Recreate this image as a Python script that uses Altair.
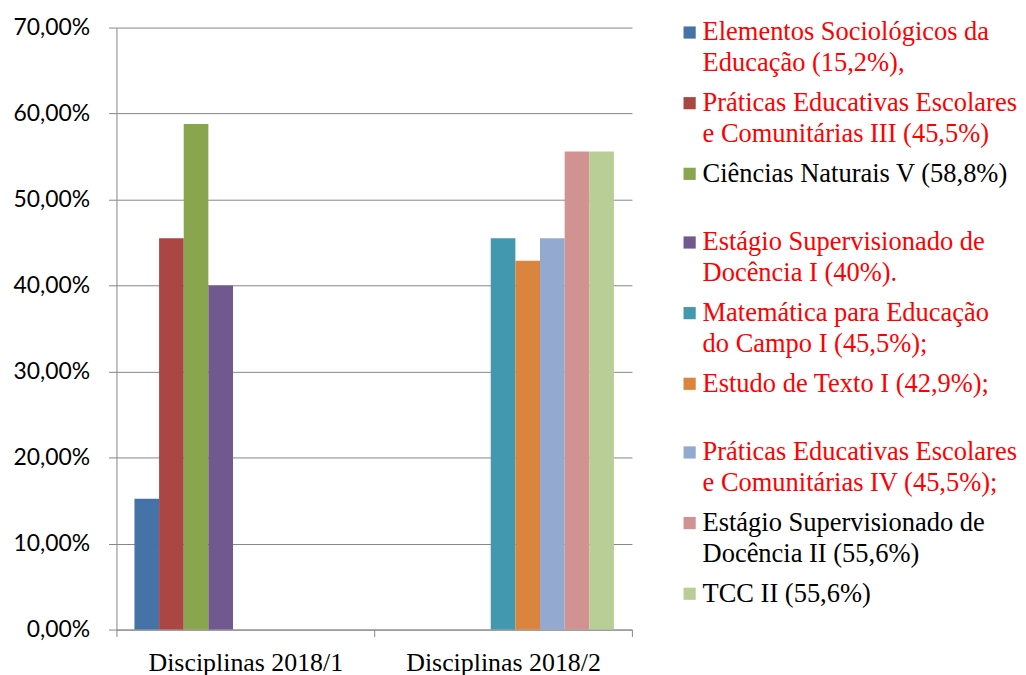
import altair as alt
import pandas as pd

categories = ["Disciplinas 2018/1", "Disciplinas 2018/2"]
series = [
    "Elementos Sociológicos da Educação",
    "Práticas Educativas Escolares e Comunitárias III",
    "Ciências Naturais V",
    "Estágio Supervisionado de Docência I",
    "Matemática para Educação do Campo I",
    "Estudo de Texto I",
    "Práticas Educativas Escolares e Comunitárias IV",
    "Estágio Supervisionado de Docência II",
    "TCC II",
]
series_category = [0, 0, 0, 0, 1, 1, 1, 1, 1]
values = [15.2, 45.5, 58.8, 40.0, 45.5, 42.9, 45.5, 55.6, 55.6]
colors = ["#4572A7", "#AA4643", "#89A54E", "#71588F", "#4198AF",
          "#DB843D", "#93A9CF", "#D19392", "#B9CD96"]
legend_lines = [
    ["Elementos Sociológicos da", "Educação (15,2%),"],
    ["Práticas Educativas Escolares", "e Comunitárias III (45,5%)"],
    ["Ciências Naturais V (58,8%)"],
    ["Estágio Supervisionado de", "Docência I (40%)."],
    ["Matemática para Educação", "do Campo I (45,5%);"],
    ["Estudo de Texto I (42,9%);"],
    ["Práticas Educativas Escolares", "e Comunitárias IV (45,5%);"],
    ["Estágio Supervisionado de", "Docência II (55,6%)"],
    ["TCC II (55,6%)"],
]
legend_red = [True, True, False, True, True, True, True, False, False]
legend_group = [0, 0, 0, 1, 1, 1, 2, 2, 2]
y_ticks = [0, 10, 20, 30, 40, 50, 60, 70]

PLOT_W, PLOT_H = 518, 605
GRAY = "#868686"

bar_df = pd.DataFrame({
    "cat": [categories[c] for c in series_category],
    "serie": series,
    "val": values,
})

bars = alt.Chart(bar_df).mark_bar().encode(
    x=alt.X("cat:N",
            scale=alt.Scale(domain=categories, paddingInner=0, paddingOuter=0),
            axis=alt.Axis(title=None, labelAngle=0, tickBand="extent",
                          labelFont="Liberation Serif", labelFontSize=26,
                          labelColor="black", labelPadding=13, labelLimit=0,
                          tickSize=7, tickColor=GRAY, domainColor=GRAY,
                          grid=False)),
    xOffset=alt.XOffset("serie:N",
                        scale=alt.Scale(domain=series, paddingInner=0, paddingOuter=0.73)),
    y=alt.Y("val:Q",
            scale=alt.Scale(domain=[0, 70]),
            axis=alt.Axis(title=None, values=y_ticks,
                          labelExpr="replace(format(datum.value, '.2f'), '.', ',') + '%'",
                          labelFont="Lato", labelFontSize=23, labelColor="black",
                          labelPadding=19, tickSize=8, tickColor=GRAY,
                          domainColor=GRAY, gridColor=GRAY, grid=True)),
    color=alt.Color("serie:N", scale=alt.Scale(domain=series, range=colors), legend=None),
).properties(width=PLOT_W, height=PLOT_H)

# custom legend, laid out line by line
LINE, ENTRY, GROUP = 31, 40, 29
rows = []
pos = 5
for i, lines in enumerate(legend_lines):
    if i > 0:
        pos += ENTRY + (GROUP if legend_group[i] != legend_group[i - 1] else 0)
    for j, line in enumerate(lines):
        if j > 0:
            pos += LINE
        rows.append({
            "serie": series[i],
            "text": line,
            "pos": pos,
            "first": j == 0,
            "tc": "#FF0000" if legend_red[i] else "#000000",
        })
leg_df = pd.DataFrame(rows)

yscale = alt.Scale(domain=[0, PLOT_H], reverse=True)

squares = alt.Chart(leg_df).transform_filter("datum.first").mark_square(
    size=150, opacity=1
).encode(
    x=alt.value(18),
    y=alt.Y("pos:Q", scale=yscale, axis=None),
    color=alt.Color("serie:N", scale=alt.Scale(domain=series, range=colors), legend=None),
)

texts = alt.Chart(leg_df).mark_text(
    align="left", baseline="middle", font="Liberation Serif", fontSize=26.6
).encode(
    x=alt.value(31),
    y=alt.Y("pos:Q", scale=yscale, axis=None),
    text="text:N",
    color=alt.Color("tc:N", scale=None),
)

legend = alt.layer(squares, texts).resolve_scale(color="independent").properties(
    width=340, height=PLOT_H
)

chart = alt.hconcat(bars, legend, spacing=40, bounds="flush").resolve_scale(
    color="independent"
).properties(
    padding={"left": 4, "top": 7, "right": 0, "bottom": 0},
    background="white",
).configure_view(strokeWidth=0, stroke="transparent")

chart.save("out.html", embed_options={"renderer": "svg", "actions": False})
